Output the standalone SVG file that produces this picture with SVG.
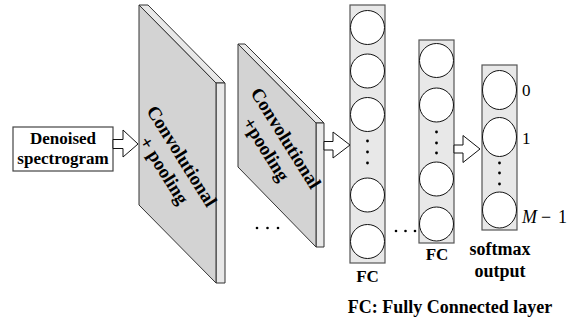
<svg xmlns="http://www.w3.org/2000/svg" width="579" height="322" viewBox="0 0 579 322">
<style>
.bt{font-family:"Liberation Serif","Times New Roman",serif;font-weight:bold;fill:#000}
.mt{font-family:"Liberation Serif","Times New Roman",serif;fill:#000}
.front{fill:#d3d3d3;stroke:#333;stroke-width:1}
.edge{fill:#e8e8e8;stroke:#333;stroke-width:1}
.col{fill:#e8e8e8;stroke:#555;stroke-width:1.2}
.neu{fill:#fff;stroke:#111;stroke-width:1}
.arr{fill:#fff;stroke:#111;stroke-width:1}
.dot{fill:#000}
</style>
<g id="input">
<rect x="13" y="127" width="100" height="44" fill="#fff" stroke="#444" stroke-width="1.2"/>
<text class="bt" x="63" y="144" font-size="17" text-anchor="middle">Denoised</text>
<text class="bt" x="63" y="164" font-size="17" text-anchor="middle">spectrogram</text>
</g>
<g id="conv1">
<polygon class="edge" points="139,5 148,5 225,83 216,83"/>
<polygon class="edge" points="216,83 225,83 225,283 216,283"/>
<polygon class="front" points="139,5 216,83 216,283 139,205"/>
<g transform="translate(182,156) rotate(58)"><text class="bt" x="0" y="6.5" font-size="19" text-anchor="middle">Convolutional</text></g>
<g transform="translate(163,171) rotate(58)"><text class="bt" x="0" y="5" font-size="19" text-anchor="middle">+ pooling</text></g>
</g>
<g id="conv2">
<polygon class="edge" points="238,44 245,44 324,123 316,123"/>
<polygon class="edge" points="316,123 324,123 324,247 316,247"/>
<polygon class="front" points="238,44 316,123 316,247 238,167"/>
<g transform="translate(286,138) rotate(58)"><text class="bt" x="0" y="6.5" font-size="19" text-anchor="middle">Convolutional</text></g>
<g transform="translate(265,150) rotate(58)"><text class="bt" x="0" y="5" font-size="19" text-anchor="middle">+pooling</text></g>
</g>
<g id="fc1">
<rect class="col" x="350" y="5" width="35" height="258"/>
<circle class="neu" cx="367.5" cy="27.5" r="17"/>
<circle class="neu" cx="367.5" cy="71" r="17"/>
<circle class="neu" cx="367.5" cy="114.5" r="17"/>
<circle class="dot" cx="367.5" cy="141" r="1.4"/>
<circle class="dot" cx="367.5" cy="152" r="1.4"/>
<circle class="dot" cx="367.5" cy="163" r="1.4"/>
<circle class="neu" cx="367.5" cy="195" r="17"/>
<circle class="neu" cx="367.5" cy="241.5" r="17"/>
<text class="bt" x="367.5" y="282" font-size="17" text-anchor="middle">FC</text>
</g>
<g id="fc2">
<rect class="col" x="419" y="40" width="35" height="203"/>
<circle class="neu" cx="436.5" cy="60.5" r="17"/>
<circle class="neu" cx="436.5" cy="105" r="17"/>
<circle class="dot" cx="436.5" cy="132" r="1.4"/>
<circle class="dot" cx="436.5" cy="143" r="1.4"/>
<circle class="dot" cx="436.5" cy="153" r="1.4"/>
<circle class="neu" cx="436.5" cy="179" r="17"/>
<circle class="neu" cx="436.5" cy="224" r="17"/>
<text class="bt" x="437" y="260" font-size="17" text-anchor="middle">FC</text>
</g>
<g id="softmax">
<rect class="col" x="482" y="65" width="35" height="165"/>
<ellipse class="neu" cx="499.5" cy="90" rx="17" ry="19.5"/>
<ellipse class="neu" cx="499.5" cy="137" rx="17" ry="19.5"/>
<circle class="dot" cx="499.5" cy="163" r="1.4"/>
<circle class="dot" cx="499.5" cy="173" r="1.4"/>
<circle class="dot" cx="499.5" cy="184" r="1.4"/>
<ellipse class="neu" cx="499.5" cy="210" rx="17" ry="18"/>
<text class="mt" x="522" y="96" font-size="17">0</text>
<text class="mt" x="522" y="144" font-size="17">1</text>
<text class="mt" x="522" y="223" font-size="18"><tspan font-style="italic">M</tspan><tspan x="541">−</tspan><tspan x="558">1</tspan></text>
<text class="bt" x="500" y="255" font-size="18" text-anchor="middle">softmax</text>
<text class="bt" x="500" y="277" font-size="18" text-anchor="middle">output</text>
</g>
<g id="connectors">
<polygon class="arr" points="113,139.5 123,139.5 123,130 138,144 123,157 123,148.5 113,148.5"/>
<polygon class="arr" points="324,141.5 333,141.5 333,132 350,145 333,158 333,150 324,150"/>
<polygon class="arr" points="454,145 463,145 463,135.5 480,149 463,162.5 463,153 454,153"/>
</g>
<g id="ellipses">
<circle class="dot" cx="257" cy="228" r="1.3"/>
<circle class="dot" cx="267.5" cy="228" r="1.3"/>
<circle class="dot" cx="278" cy="228" r="1.3"/>
<circle class="dot" cx="396" cy="231" r="1.3"/>
<circle class="dot" cx="405.5" cy="231" r="1.3"/>
<circle class="dot" cx="415" cy="231" r="1.3"/>
</g>
<g id="legend">
<text class="bt" x="450" y="313" font-size="18" text-anchor="middle">FC: Fully Connected layer</text>
</g>
</svg>
